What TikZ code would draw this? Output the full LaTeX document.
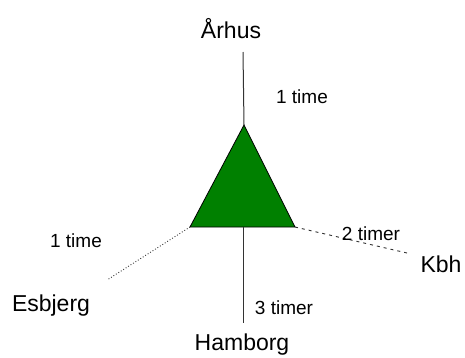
\documentclass[tikz,border=0pt]{standalone}
\usepackage{fontspec}
\setmainfont{Liberation Sans}
\definecolor{trigreen}{HTML}{008000}
\usetikzlibrary{calc}

\begin{document}
\begin{tikzpicture}[x=1pt,y=-1pt,
  city/.style={inner sep=0pt,anchor=base,font=\fontsize{23}{27}\selectfont},
  dur/.style={inner sep=0pt,anchor=base,font=\fontsize{19}{23}\selectfont}]
\useasboundingbox (0,0) rectangle (465,357);
% triangle and the ends of the roads
\coordinate (top) at (244,125);
\coordinate (bl) at (190,227);
\coordinate (br) at (295,227);
\coordinate (bm) at (243,227);
\coordinate (nEnd) at (243,52);
\coordinate (sEnd) at (243,323);
\coordinate (wEnd) at (107,280);
\coordinate (eEnd) at (407,253);
\filldraw[fill=trigreen,draw=black,line width=0.8pt] (top)--(bl)--(br)--cycle;
\draw[line width=1pt,black!80] (nEnd)--(top);
\draw[line width=1pt,black!80] (bm)--(sEnd);
\draw[line width=0.9pt,dotted,black!80] (bl)--(wEnd);
\draw[line width=0.9pt,dash pattern=on 3pt off 4pt,black!80] (br)--(eEnd);
% towns
\node[city] (aarhus) at (231,38) {Århus};
\node[city] (esbjerg) at (51,311) {Esbjerg};
\node[city] (hamborg) at (242,350) {Hamborg};
\node[city] (kbh) at (441,272) {Kbh};
% travel times
\node[dur] (tN) at (302,103) {1 time};
\node[dur] (tW) at (76,247) {1 time};
\node[dur] (tS) at (284,314) {3 timer};
\node[dur] (tE) at (371,240) {2 timer};
\end{tikzpicture}
\end{document}
